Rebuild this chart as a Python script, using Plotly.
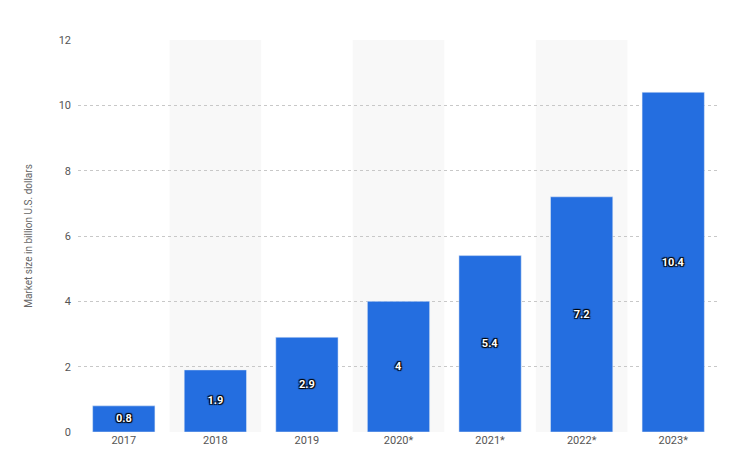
import plotly.graph_objects as go

years = ["2017", "2018", "2019", "2020*", "2021*", "2022*", "2023*"]
values = [0.8, 1.9, 2.9, 4, 5.4, 7.2, 10.4]
labels = ["0.8", "1.9", "2.9", "4", "5.4", "7.2", "10.4"]

fig = go.Figure(go.Bar(
    x=years, y=values, text=labels, textposition="inside",
    insidetextanchor="middle", width=0.68,
    marker=dict(color="#246ee0"),
    textfont=dict(color="white", size=11, family="Roboto", weight="bold",
                  shadow="1px 1px 1px black, -1px -1px 1px black, 1px -1px 1px black, -1px 1px 1px black"),
    cliponaxis=False,
))
shapes = []
for i in (1, 3, 5):
    shapes.append(dict(type="rect", xref="x", yref="paper", x0=i-0.5, x1=i+0.5,
                       y0=0, y1=1, fillcolor="#f8f8f8", line=dict(width=0), layer="below"))
fig.update_layout(
    width=733, height=466, margin=dict(l=70, r=22, t=32, b=42),
    plot_bgcolor="white", paper_bgcolor="white", shapes=shapes,
    font=dict(family="Roboto", color="#666", size=11),
    showlegend=False, bargap=0.32,
    xaxis=dict(showgrid=False, tickfont=dict(size=11, color="#555"), ticks="", range=[-0.5, 6.5]),
    yaxis=dict(range=[0, 12], dtick=2, showgrid=True, gridcolor="#c8c8c8", griddash="dot",
               zeroline=False, tickfont=dict(size=11, color="#555"), ticklabelstandoff=6,
               title=dict(text="Market size in billion U.S. dollars", font=dict(size=10, color="#666"), standoff=24)),
)
fig.write_html("out.html")
